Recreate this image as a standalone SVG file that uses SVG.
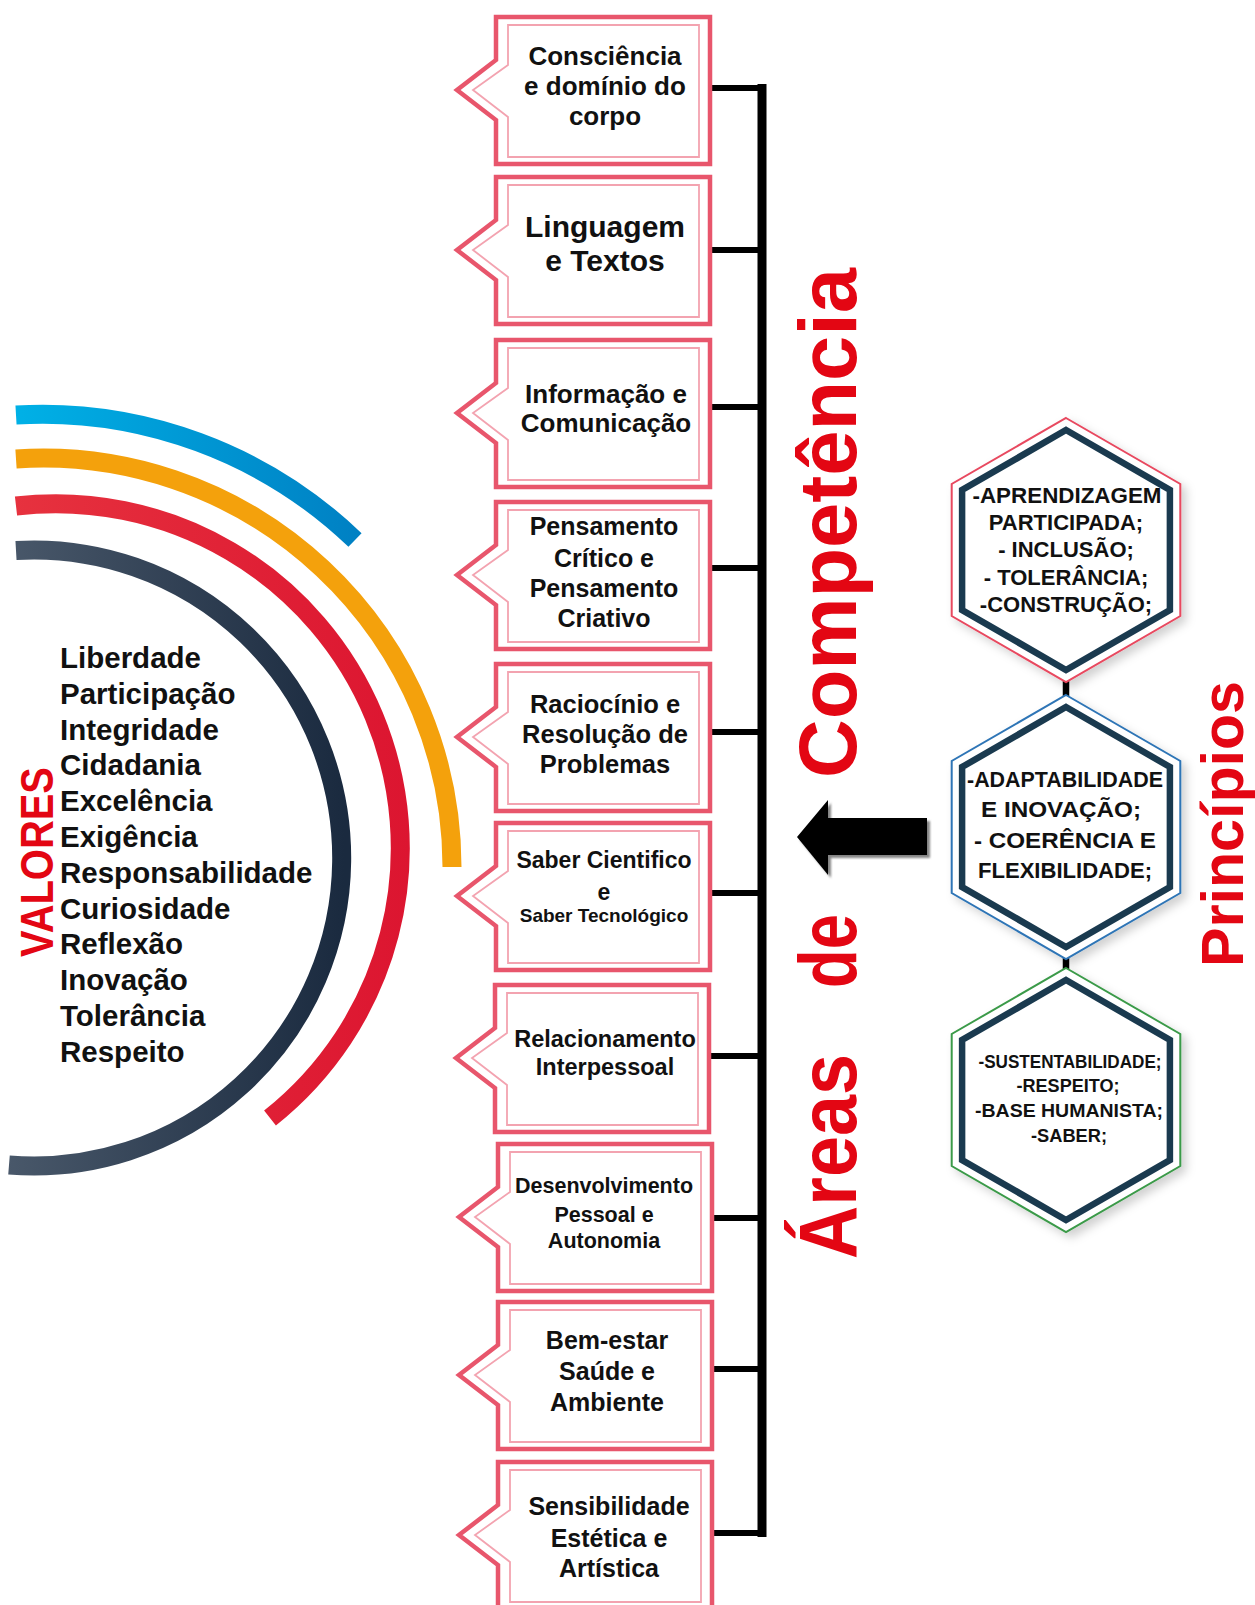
<svg xmlns="http://www.w3.org/2000/svg" xmlns:xlink="http://www.w3.org/1999/xlink" width="1255" height="1605" viewBox="0 0 1255 1605">
<style>
.box-o{fill:#fff;stroke:#E8566C;stroke-width:4.5;stroke-linejoin:miter}
.box-i{fill:none;stroke:#F3A3B0;stroke-width:1.8}
.bt{font-family:"Liberation Sans",Arial,sans-serif;font-weight:bold;fill:#111;text-anchor:middle}
.vt{font-family:"Liberation Sans",Arial,sans-serif;font-weight:bold;fill:#111;font-size:29.5px}
.red{font-family:"Liberation Sans",Arial,sans-serif;font-weight:bold;fill:#E30613}
.ht{font-family:"Liberation Sans",Arial,sans-serif;font-weight:bold;fill:#111;text-anchor:middle}
.hexd{fill:none;stroke:#1A3A4F;stroke-width:6.5;stroke-linejoin:miter}
.conn{fill:none;stroke:#000}
.arc{fill:none;stroke-width:19}
</style>
<defs>
<linearGradient id="gDark" gradientUnits="userSpaceOnUse" x1="0" y1="0" x2="345" y2="0">
<stop offset="0" stop-color="#4A596B"/><stop offset="1" stop-color="#1A2A3F"/></linearGradient>
<linearGradient id="gRed" gradientUnits="userSpaceOnUse" x1="0" y1="0" x2="410" y2="0">
<stop offset="0" stop-color="#E7333F"/><stop offset="1" stop-color="#DC1530"/></linearGradient>
<linearGradient id="gBlue" gradientUnits="userSpaceOnUse" x1="0" y1="0" x2="360" y2="0">
<stop offset="0" stop-color="#00B3E8"/><stop offset="1" stop-color="#0080C3"/></linearGradient>
<filter id="shArrow" x="-20%" y="-20%" width="140%" height="150%">
<feDropShadow dx="3" dy="3" stdDeviation="1.2" flood-color="#666" flood-opacity="0.8"/></filter>
<filter id="shHex" x="-20%" y="-20%" width="150%" height="150%">
<feDropShadow dx="5" dy="5" stdDeviation="5" flood-color="#000" flood-opacity="0.18"/></filter>
<g id="frame">
<path class="box-o" d="M0 0H214V147H0V103L-39 73L0 43Z"/>
<path class="box-i" d="M12 8H203V140H12V100L-23 73L12 48Z"/>
</g>
<path id="hexO" d="M0 -132L114.3 -66L114.3 66L0 132L-114.3 66L-114.3 -66Z"/>
<path id="hexI" d="M0 -120L103.9 -60L103.9 60L0 120L-103.9 60L-103.9 -60Z"/>
</defs>
<rect width="1255" height="1605" fill="#fff"/>

<g id="valores">
<path class="arc" stroke="url(#gBlue)" d="M16 415A452 452 0 0 1 355 540"/>
<path class="arc" stroke="#F4A10C" d="M16 459A409 409 0 0 1 452 867"/>
<path class="arc" stroke="url(#gRed)" d="M16 506A344.5 344.5 0 0 1 270 1118"/>
<path class="arc" stroke="url(#gDark)" d="M16 550.5A308 308 0 1 1 9 1165"/>
<text class="red" font-size="46" transform="translate(53 957) rotate(-90)" textLength="190" lengthAdjust="spacingAndGlyphs">VALORES</text>
<text class="vt" x="60" y="668">Liberdade</text>
<text class="vt" x="60" y="704">Participação</text>
<text class="vt" x="60" y="740">Integridade</text>
<text class="vt" x="60" y="775">Cidadania</text>
<text class="vt" x="60" y="811">Excelência</text>
<text class="vt" x="60" y="847">Exigência</text>
<text class="vt" x="60" y="883">Responsabilidade</text>
<text class="vt" x="60" y="919">Curiosidade</text>
<text class="vt" x="60" y="954">Reflexão</text>
<text class="vt" x="60" y="990">Inovação</text>
<text class="vt" x="60" y="1026">Tolerância</text>
<text class="vt" x="60" y="1062">Respeito</text>
</g>

<g id="connectors">
<path class="conn" stroke-width="6" d="M710 88H762M710 250H762M710 407H762M710 568H762M710 732H762M710 893H762M710 1056H762M712 1218H762M712 1369H762M712 1533H762"/>
<path class="conn" stroke-width="9" d="M762 84V1537"/>
<path class="conn" stroke="#1A3A4F" stroke-width="6.5" d="M1066 668V709M1066 945V982"/>
</g>

<g id="box-consciencia">
<use href="#frame" x="496" y="17"/>
<text class="bt" font-size="26" x="605" y="65">Consciência</text>
<text class="bt" font-size="26" x="605" y="95">e domínio do</text>
<text class="bt" font-size="26" x="605" y="125">corpo</text>
</g>
<g id="box-linguagem">
<use href="#frame" x="496" y="177"/>
<text class="bt" font-size="30" x="605" y="237">Linguagem</text>
<text class="bt" font-size="30" x="605" y="271">e Textos</text>
</g>
<g id="box-informacao">
<use href="#frame" x="496" y="340"/>
<text class="bt" font-size="26" x="606" y="403">Informação e</text>
<text class="bt" font-size="26" x="606" y="432">Comunicação</text>
</g>
<g id="box-pensamento">
<use href="#frame" x="496" y="502"/>
<text class="bt" font-size="25" x="604" y="535">Pensamento</text>
<text class="bt" font-size="25" x="604" y="567">Crítico e</text>
<text class="bt" font-size="25" x="604" y="597">Pensamento</text>
<text class="bt" font-size="25" x="604" y="627">Criativo</text>
</g>
<g id="box-raciocinio">
<use href="#frame" x="496" y="664"/>
<text class="bt" font-size="25.5" x="605" y="713">Raciocínio e</text>
<text class="bt" font-size="25.5" x="605" y="743">Resolução de</text>
<text class="bt" font-size="25.5" x="605" y="773">Problemas</text>
</g>
<g id="box-saber">
<use href="#frame" x="496" y="823"/>
<text class="bt" font-size="23" x="604" y="868">Saber Cientifico</text>
<text class="bt" font-size="23" x="604" y="900">e</text>
<text class="bt" font-size="19" x="604" y="922">Saber Tecnológico</text>
</g>
<g id="box-relacionamento">
<use href="#frame" x="495" y="985"/>
<text class="bt" font-size="23.5" x="605" y="1047">Relacionamento</text>
<text class="bt" font-size="23.5" x="605" y="1075">Interpessoal</text>
</g>
<g id="box-desenvolvimento">
<use href="#frame" x="498" y="1144"/>
<text class="bt" font-size="21.5" x="604" y="1193">Desenvolvimento</text>
<text class="bt" font-size="21.5" x="604" y="1222">Pessoal e</text>
<text class="bt" font-size="21.5" x="604" y="1248">Autonomia</text>
</g>
<g id="box-bemestar">
<use href="#frame" x="498" y="1302"/>
<text class="bt" font-size="25" x="607" y="1349">Bem-estar</text>
<text class="bt" font-size="25" x="607" y="1380">Saúde e</text>
<text class="bt" font-size="25" x="607" y="1411">Ambiente</text>
</g>
<g id="box-sensibilidade">
<use href="#frame" x="498" y="1462"/>
<text class="bt" font-size="25" x="609" y="1515">Sensibilidade</text>
<text class="bt" font-size="25" x="609" y="1547">Estética e</text>
<text class="bt" font-size="25" x="609" y="1577">Artística</text>
</g>

<g id="title-areas">
<text class="red" font-size="82" transform="translate(856 1259) rotate(-90)" textLength="205" lengthAdjust="spacingAndGlyphs">Áreas</text>
<text class="red" font-size="82" transform="translate(856 988) rotate(-90)" textLength="74" lengthAdjust="spacingAndGlyphs">de</text>
<text class="red" font-size="82" transform="translate(856 778) rotate(-90)" textLength="510" lengthAdjust="spacingAndGlyphs">Competência</text>
</g>

<g id="arrow">
<polygon points="797,837 828,800 828,818 927,818 927,855 828,855 828,875" fill="#000" filter="url(#shArrow)"/>
</g>

<g id="hex-1">
<use href="#hexO" x="1066" y="550" fill="#fff" stroke="#E8485F" stroke-width="2" filter="url(#shHex)"/>
<use href="#hexI" x="1066" y="550" class="hexd"/>
<text class="ht" font-size="22" x="1067" y="503" textLength="189" lengthAdjust="spacingAndGlyphs">-APRENDIZAGEM</text>
<text class="ht" font-size="22" x="1066" y="530">PARTICIPADA;</text>
<text class="ht" font-size="22" x="1066" y="557">- INCLUSÃO;</text>
<text class="ht" font-size="22" x="1066" y="585">- TOLERÂNCIA;</text>
<text class="ht" font-size="22" x="1066" y="612">-CONSTRUÇÃO;</text>
</g>
<g id="hex-2">
<use href="#hexO" x="1066" y="827" fill="#fff" stroke="#2E75B6" stroke-width="2" filter="url(#shHex)"/>
<use href="#hexI" x="1066" y="827" class="hexd"/>
<text class="ht" font-size="22.5" x="1065" y="787" textLength="196" lengthAdjust="spacingAndGlyphs">-ADAPTABILIDADE</text>
<text class="ht" font-size="22.5" x="1061" y="817" textLength="160" lengthAdjust="spacingAndGlyphs">E INOVAÇÃO;</text>
<text class="ht" font-size="22.5" x="1065" y="848" textLength="182" lengthAdjust="spacingAndGlyphs">- COERÊNCIA E</text>
<text class="ht" font-size="22.5" x="1065" y="878" textLength="174" lengthAdjust="spacingAndGlyphs">FLEXIBILIDADE;</text>
</g>
<g id="hex-3">
<use href="#hexO" x="1066" y="1100" fill="#fff" stroke="#3A9A48" stroke-width="2" filter="url(#shHex)"/>
<use href="#hexI" x="1066" y="1100" class="hexd"/>
<text class="ht" font-size="18" x="1070" y="1068" textLength="183" lengthAdjust="spacingAndGlyphs">-SUSTENTABILIDADE;</text>
<text class="ht" font-size="18" x="1068" y="1092" textLength="103" lengthAdjust="spacingAndGlyphs">-RESPEITO;</text>
<text class="ht" font-size="18" x="1069" y="1117" textLength="188" lengthAdjust="spacingAndGlyphs">-BASE HUMANISTA;</text>
<text class="ht" font-size="18" x="1069" y="1142" textLength="76" lengthAdjust="spacingAndGlyphs">-SABER;</text>
</g>

<g id="title-principios">
<text class="red" font-size="60" transform="translate(1243 967) rotate(-90)" textLength="286" lengthAdjust="spacingAndGlyphs">Princípios</text>
</g>
</svg>
